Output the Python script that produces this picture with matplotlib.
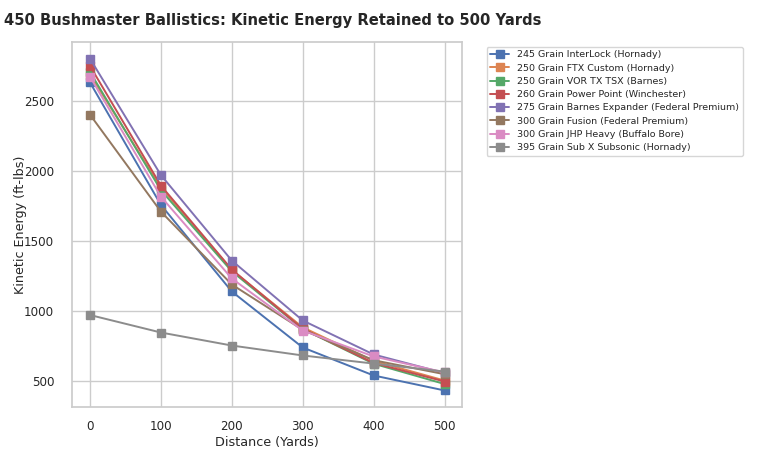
import matplotlib
matplotlib.use("Agg")
import matplotlib.pyplot as plt
import seaborn as sns

distances = [0, 100, 200, 300, 400, 500]
labels = [
    "245 Grain InterLock (Hornady)",
    "250 Grain FTX Custom (Hornady)",
    "250 Grain VOR TX TSX (Barnes)",
    "260 Grain Power Point (Winchester)",
    "275 Grain Barnes Expander (Federal Premium)",
    "300 Grain Fusion (Federal Premium)",
    "300 Grain JHP Heavy (Buffalo Bore)",
    "395 Grain Sub X Subsonic (Hornady)",
]
interlock_245 = [2630, 1755, 1136, 736, 536, 429]
ftx_250 = [2686, 1879, 1289, 880, 640, 500]
vortx_250 = [2705, 1860, 1280, 868, 620, 475]
powerpoint_260 = [2748, 1893, 1293, 870, 625, 493]
barnes_275 = [2800, 1968, 1357, 929, 686, 553]
fusion_300 = [2400, 1707, 1186, 862, 645, 545]
jhp_300 = [2671, 1814, 1229, 857, 672, 558]
subx_395 = [968, 843, 750, 679, 621, 564]
series = [interlock_245, ftx_250, vortx_250, powerpoint_260,
          barnes_275, fusion_300, jhp_300, subx_395]

sns.set_theme(style="whitegrid", palette="deep")
plt.rcParams['font.family'] = ['DejaVu Sans']

fig, ax = plt.subplots(figsize=(7.68, 4.61), dpi=100)
fig.subplots_adjust(left=0.094, right=0.602, top=0.909, bottom=0.117)
for lab, vals in zip(labels, series):
    ax.plot(distances, vals, marker='s', markersize=5.5, linewidth=1.4, label=lab)

ax.set_title("450 Bushmaster Ballistics: Kinetic Energy Retained to 500 Yards",
             fontsize=10.6, fontweight='bold', pad=12, x=0.513)
ax.set_xlabel("Distance (Yards)", fontsize=9.2, labelpad=2)
ax.set_ylabel("Kinetic Energy (ft-lbs)", fontsize=9.2, labelpad=-2)
ax.set_xticks(distances)
ax.tick_params(labelsize=8.6)
ax.tick_params(axis='y', pad=7)
ax.legend(loc='upper left', bbox_to_anchor=(1.05, 1.0), fontsize=6.8,
          labelspacing=0.45, frameon=True)
fig.savefig("out.png", dpi=100)
